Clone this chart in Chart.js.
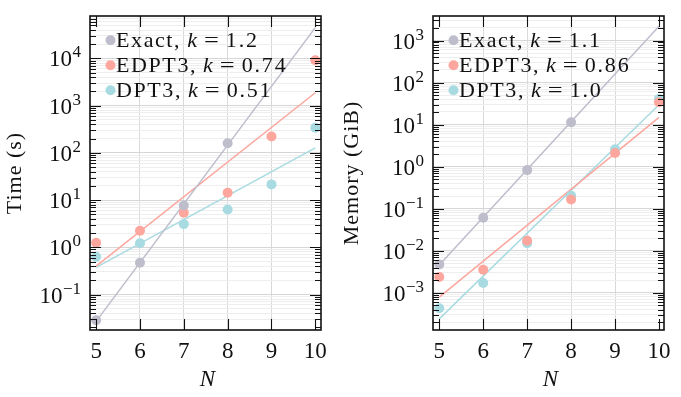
<!DOCTYPE html>
<html><head><meta charset="utf-8">
<script src="https://cdn.jsdelivr.net/npm/chart.js@4.4.1/dist/chart.umd.min.js"></script>
<style>
html,body{margin:0;padding:0;background:#fff;overflow:hidden;width:681px;height:397px}
.w{position:absolute;top:0;height:397px}
</style></head>
<body>
<div class="w" style="left:0;width:340px"><canvas id="c1"></canvas></div>
<div class="w" style="left:340px;width:341px"><canvas id="c2"></canvas></div>
<script>
// ---- data ----
const nValues = [5, 6, 7, 8, 9, 10];
const xTickLabels = ['5', '6', '7', '8', '9', '10'];
const fitN = [5, 10];
const seriesNames = ['Exact', 'EDPT3', 'DPT3'];

// Time (s)
const timeExact = [0.0285, 0.47, 7.7, 160, null, null];
const timeEDPT3 = [1.25, 2.25, 5.4, 14.3, 222, 9200];
const timeDPT3  = [0.63, 1.22, 3.1, 6.3, 21.5, 340];
const timeFitExact = [0.027, 45000];
const timeFitEDPT3 = [0.40, 1880];
const timeFitDPT3  = [0.377, 128];
const timeK = ['1.2', '0.74', '0.51'];
const timeYExp = [-1, 0, 1, 2, 3, 4];

// Memory (GiB)
const memExact = [0.00475, 0.061, 0.83, 11.4, null, null];
const memEDPT3 = [0.00237, 0.00354, 0.0173, 0.166, 2.12, 34];
const memDPT3  = [0.00043, 0.00171, 0.0152, 0.203, 2.6, 41];
const memFitExact = [0.0046, 2190];
const memFitEDPT3 = [0.00079, 14.9];
const memFitDPT3  = [0.00024, 29.6];
const memK = ['1.1', '0.86', '1.0'];
const memYExp = [-3, -2, -1, 0, 1, 2, 3];

const colors = ['#bdbdcc', '#fca69e', '#a8dbe1'];
const SERIF = "'Liberation Serif', 'DejaVu Serif', serif";

function pts(xs, ys) {
  const out = [];
  xs.forEach((x, i) => { if (ys[i] !== null) out.push({x: x, y: ys[i]}); });
  return out;
}

function niceInfo(v) {
  const e = Math.floor(Math.log10(v) + 1e-9);
  const d = v / Math.pow(10, e);
  const r = Math.round(d);
  return {nice: Math.abs(d - r) < 1e-6 && r >= 1 && r <= 9, major: r === 1 && Math.abs(d - 1) < 1e-6};
}

function decor(cfg) {
  return {
    id: 'decor' + cfg.id,
    afterDraw(chart) {
      const ctx = chart.ctx, a = chart.chartArea;
      const xs = chart.scales.x, ys = chart.scales.y;
      ctx.save();
      // inward ticks
      ctx.strokeStyle = '#111';
      ctx.lineWidth = 1.1;
      ctx.beginPath();
      const e0 = Math.floor(Math.log10(ys.min)), e1 = Math.ceil(Math.log10(ys.max));
      for (let e = e0; e <= e1; e++) {
        for (let d = 1; d <= 9; d++) {
          const v = d * Math.pow(10, e);
          if (v < ys.min || v > ys.max) continue;
          const p = Math.round(ys.getPixelForValue(v)) + 0.5;
          const L = d === 1 ? 11 : 6;
          ctx.moveTo(a.left, p); ctx.lineTo(a.left + L, p);
          ctx.moveTo(a.right, p); ctx.lineTo(a.right - L, p);
        }
      }
      nValues.forEach(n => {
        const p = Math.round(xs.getPixelForValue(n)) + 0.5;
        ctx.moveTo(p, a.bottom); ctx.lineTo(p, a.bottom - 11);
        ctx.moveTo(p, a.top); ctx.lineTo(p, a.top + 11);
      });
      ctx.stroke();
      // frame
      ctx.lineWidth = 1.6;
      ctx.strokeRect(a.left, a.top, a.right - a.left, a.bottom - a.top);

      ctx.fillStyle = '#111';
      // y tick labels
      cfg.yExp.forEach(e => {
        const p = ys.getPixelForValue(Math.pow(10, e));
        const es = e < 0 ? '\u2212' + (-e) : String(e);
        ctx.font = '17px ' + SERIF;
        const ew = ctx.measureText(es).width;
        const rx = a.left - 9;
        ctx.textAlign = 'left'; ctx.textBaseline = 'alphabetic';
        ctx.fillText(es, rx - ew, p - 1);
        ctx.font = '23px ' + SERIF;
        ctx.textAlign = 'right';
        ctx.fillText('10', rx - ew - 0.5, p + 8);
      });
      // x tick labels
      ctx.font = '23px ' + SERIF;
      ctx.textAlign = 'center';
      nValues.forEach((n, i) => {
        ctx.fillText(xTickLabels[i], xs.getPixelForValue(n), 358);
      });
      // x title
      ctx.font = 'italic 23px ' + SERIF;
      ctx.fillText('N', (a.left + a.right) / 2 + 2, 386);
      // y title
      ctx.save();
      ctx.translate(cfg.titleX, (a.top + a.bottom) / 2);
      ctx.rotate(-Math.PI / 2);
      ctx.font = '22px ' + SERIF;
      ctx.letterSpacing = '1px';
      ctx.textAlign = 'center';
      ctx.fillText(cfg.title, 0, 0);
      ctx.restore();
      // legend
      seriesNames.forEach((name, i) => {
        const cy = 40.3 + 25 * i;
        ctx.fillStyle = colors[i];
        ctx.beginPath();
        ctx.arc(a.left + 20.5, cy, 5, 0, Math.PI * 2);
        ctx.fill();
        ctx.fillStyle = '#111';
        ctx.textAlign = 'left';
        ctx.letterSpacing = '1.6px';
        let x = a.left + 26;
        const by = cy + 7;
        ctx.font = '22px ' + SERIF;
        const s1 = name + ',';
        ctx.fillText(s1, x, by);
        x += ctx.measureText(s1).width + 6;
        ctx.letterSpacing = '0px';
        ctx.font = 'italic 22px ' + SERIF;
        ctx.fillText('k', x, by);
        x += ctx.measureText('k').width + 7;
        ctx.font = '22px ' + SERIF;
        ctx.save();
        ctx.translate(x, 0);
        ctx.scale(1.2, 1);
        ctx.fillText('=', 0, by);
        ctx.restore();
        x += ctx.measureText('=').width * 1.2 + 7;
        ctx.letterSpacing = '1.8px';
        ctx.fillText(cfg.k[i], x, by);
        ctx.letterSpacing = '0px';
      });
      ctx.restore();
    }
  };
}

function makeChart(id, cfg) {
  const datasets = [];
  cfg.fits.forEach((f, i) => {
    datasets.push({
      data: pts(fitN, f), showLine: true, borderColor: colors[i], borderWidth: 1.5,
      pointRadius: 0, fill: false, order: 2
    });
  });
  cfg.series.forEach((s, i) => {
    datasets.push({
      data: pts(nValues, s), showLine: false, pointRadius: 5, pointHoverRadius: 5,
      backgroundColor: colors[i], borderWidth: 0, pointBorderWidth: 0, order: 1, clip: false
    });
  });
  return new Chart(document.getElementById(id), {
    type: 'scatter',
    data: {datasets},
    options: {
      responsive: true, maintainAspectRatio: false, animation: false,
      events: [],
      layout: {padding: {left: 0, right: cfg.padRight, top: 16, bottom: 0}},
      plugins: {legend: {display: false}, tooltip: {enabled: false}},
      scales: {
        x: {
          type: 'linear', min: cfg.xMin, max: cfg.xMax,
          ticks: {display: false, stepSize: 1},
          border: {display: false},
          grid: {
            drawTicks: false, lineWidth: 1,
            color: c => (Math.abs(c.tick.value - Math.round(c.tick.value)) < 1e-6) ? '#d9d9d9' : 'rgba(0,0,0,0)'
          },
          afterFit: s => { s.height = 67; }
        },
        y: {
          type: 'logarithmic', min: cfg.yMin, max: cfg.yMax,
          ticks: {display: false},
          border: {display: false},
          grid: {
            drawTicks: false, lineWidth: 1,
            color: c => {
              const inf = niceInfo(c.tick.value);
              if (!inf.nice) return 'rgba(0,0,0,0)';
              return inf.major ? '#d6d6d6' : '#eeeeee';
            }
          },
          afterFit: s => { s.width = cfg.yWidth; }
        }
      }
    },
    plugins: [decor(cfg)]
  });
}

makeChart('c1', {
  id: 1, title: 'Time (s)', titleX: 21, k: timeK, yExp: timeYExp,
  series: [timeExact, timeEDPT3, timeDPT3],
  fits: [timeFitExact, timeFitEDPT3, timeFitDPT3],
  xMin: 4.86, xMax: 10.13, yMin: Math.pow(10, -1.752), yMax: Math.pow(10, 4.90),
  yWidth: 90, padRight: 19
});
makeChart('c2', {
  id: 2, title: 'Memory (GiB)', titleX: 18, k: memK, yExp: memYExp,
  series: [memExact, memEDPT3, memDPT3],
  fits: [memFitExact, memFitEDPT3, memFitDPT3],
  xMin: 4.857, xMax: 10.114, yMin: Math.pow(10, -3.884), yMax: Math.pow(10, 3.584),
  yWidth: 93, padRight: 17
});
</script>
</body></html>
